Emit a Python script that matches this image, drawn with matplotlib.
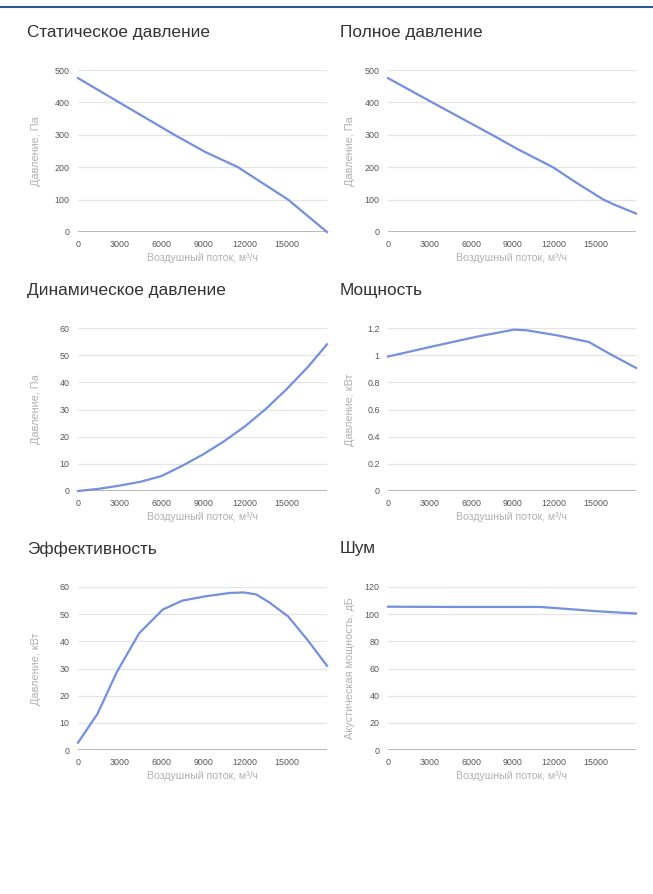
import matplotlib
matplotlib.use("Agg")
import matplotlib.pyplot as plt
from matplotlib.lines import Line2D
from matplotlib.ticker import FuncFormatter

plt.rcParams['font.family'] = ['Liberation Sans', 'DejaVu Sans']

# ----- DATA -----
x_label = "Воздушный поток, м³/ч"
x_ticks = [0, 3000, 6000, 9000, 12000, 15000]
x_max = 17900

static_flow = [0, 2960, 6930, 9100, 11500, 13300, 15100, 17900]
static_pa = [475, 400, 300, 248, 200, 150, 100, 0]

full_flow = [0, 3190, 5950, 7510, 9300, 11900, 13600, 15550, 16300, 17900]
full_pa = [475, 400, 336, 300, 257, 200, 152, 100, 85, 57]

dyn_flow = [0, 1500, 3000, 4500, 6000, 7500, 9000, 10500, 12000, 13500, 15000, 16500, 17900]
dyn_pa = [0, 0.8, 2.0, 3.4, 5.5, 9.3, 13.5, 18.3, 23.8, 30.2, 37.5, 45.5, 54]

power_flow = [0, 3200, 6500, 9100, 10000, 12200, 14500, 16000, 17900]
power_kw = [0.99, 1.064, 1.138, 1.188, 1.183, 1.146, 1.097, 1.01, 0.906]

eff_flow = [0, 1400, 2800, 4400, 6100, 7500, 9200, 10900, 11900, 12800, 13700, 15100, 16500, 17900]
eff_val = [2.7, 13.3, 28.8, 43, 51.7, 55, 56.6, 57.8, 58, 57.3, 54.5, 49.2, 40.5, 31]

noise_flow = [0, 5000, 11000, 13000, 15000, 17900]
noise_db = [105.5, 105.3, 105.3, 103.8, 102.2, 100.5]

panels = [
    ("Статическое давление", static_flow, static_pa, "Давление, Па", [0, 100, 200, 300, 400, 500]),
    ("Полное давление", full_flow, full_pa, "Давление, Па", [0, 100, 200, 300, 400, 500]),
    ("Динамическое давление", dyn_flow, dyn_pa, "Давление, Па", [0, 10, 20, 30, 40, 50, 60]),
    ("Мощность", power_flow, power_kw, "Давление, кВт", [0, 0.2, 0.4, 0.6, 0.8, 1, 1.2]),
    ("Эффективность", eff_flow, eff_val, "Давление, кВт", [0, 10, 20, 30, 40, 50, 60]),
    ("Шум", noise_flow, noise_db, "Акустическая мощность, дБ", [0, 20, 40, 60, 80, 100, 120]),
]

# ----- LAYOUT (pixels) -----
W, H = 653, 894
col_left = [78, 388]
col_width = [249, 248]
title_x = [27, 340]
ylab_x = [41, 355]
rows = [(70, 232, 33), (328, 491, 291), (587, 750, 549)]

line_color = '#7390dd'

fig = plt.figure(figsize=(W / 100, H / 100), dpi=100)
fig.patch.set_facecolor('white')

# thin blue rule at the very top
fig.add_artist(Line2D([0, 1], [1 - 7 / H] * 2, color='#2f5597', lw=1.5,
                      transform=fig.transFigure))

for i, (title, xs, ys, ylabel, yticks) in enumerate(panels):
    r, c = divmod(i, 2)
    top, bottom, ty = rows[r]
    ax = fig.add_axes([col_left[c] / W, 1 - bottom / H,
                       col_width[c] / W, (bottom - top) / H])

    ax.plot(xs, ys, color=line_color, lw=1.6, zorder=5, clip_on=False)

    ax.set_xlim(0, x_max)
    ax.set_ylim(0, yticks[-1])
    ax.set_xticks(x_ticks)
    ax.set_yticks(yticks)
    ax.yaxis.set_major_formatter(FuncFormatter(lambda v, p: f"{v:g}"))

    ax.grid(axis='y', color='#e4e4e4', lw=0.9)
    ax.grid(axis='x', visible=False)
    ax.axhline(0, color='#b3b3b3', lw=1.3, zorder=3)
    for s in ax.spines.values():
        s.set_visible(False)
    ax.tick_params(length=0, labelsize=6.4, colors='#555555', pad=6)

    ax.set_xlabel(x_label, fontsize=7.6, color='#b0b0b0')
    ax.xaxis.set_label_coords(0.5, -0.13)
    ax.set_ylabel(ylabel, fontsize=7.8, color='#b0b0b0')
    ax.yaxis.set_label_coords((ylab_x[c] - col_left[c]) / col_width[c], 0.5)

    fig.text(title_x[c] / W, 1 - ty / H, title, fontsize=12.4, color='#333333',
             ha='left', va='center')

fig.savefig('out.png', dpi=100)
